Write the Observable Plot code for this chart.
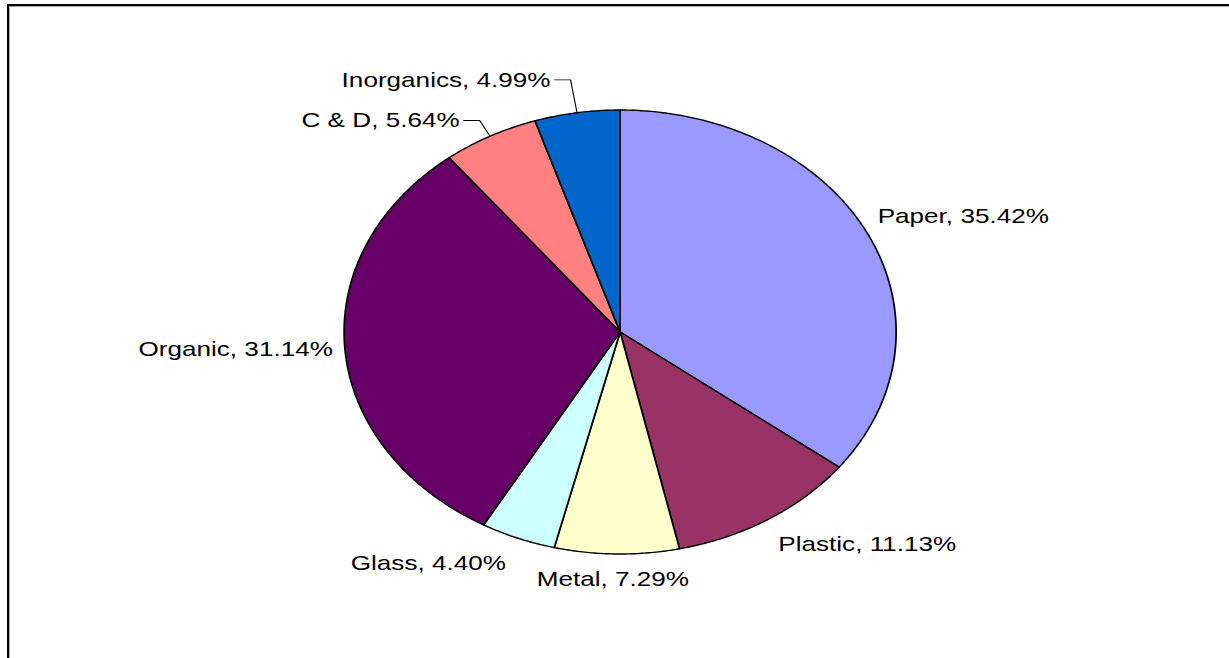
<!DOCTYPE html>
<html><head><meta charset="utf-8">
<script src="https://cdn.jsdelivr.net/npm/d3@7"></script>
<script src="https://cdn.jsdelivr.net/npm/@observablehq/plot@0.6"></script>
<style>
html,body{margin:0;padding:0;background:#fff;}
#wrap{position:relative;width:1229px;height:658px;overflow:hidden;}
#chart{position:absolute;left:0;top:0;width:1229px;height:658px;}
#chart svg{display:block;max-width:none !important;}
#frame{position:absolute;left:7px;top:4px;width:1300px;height:700px;border-top:2px solid #000;border-left:2px solid #000;box-shadow:inset 1px 1px 0 #aaa;pointer-events:none;}
</style></head><body>
<div id="wrap"><div id="chart"></div><div id="frame"></div></div>
<script>
// ---- data ----
const categories = ["Paper", "Plastic", "Metal", "Glass", "Organic", "C & D", "Inorganics"];
const shares = [35.42, 11.13, 7.29, 4.40, 31.14, 5.64, 4.99];
const labels = categories.map((c, i) => `${c}, ${shares[i].toFixed(2)}%`);

// ---- style / layout ----
const colors = ["#9999FF", "#993366", "#FFFFCC", "#CCFFFF", "#660066", "#FF8080", "#0066CC"];
const leaderReach = {"C & D": 1.08, "Inorganics": 1.15};
const W = 1229, H = 658;
const K = 276 / 222;                 // horizontal stretch of the original picture
const W0 = W / K;                    // unstretched drawing width
const R = 222;                       // pie radius (unstretched px)
const cx = 619.5 / K, cy = 331.5;
const FONT = "'Liberation Sans', Arial, Helvetica, sans-serif";

const arcs = d3.pie().sort(null).value(d => d)(shares);

// slice outlines in unit-circle coordinates
const slicePts = [];
arcs.forEach((a, i) => {
  const cat = categories[i];
  const n = Math.max(2, Math.ceil((a.endAngle - a.startAngle) / (Math.PI / 360)));
  slicePts.push({cat, x: 0, y: 0});
  for (let k = 0; k <= n; k++) {
    const t = a.startAngle + (a.endAngle - a.startAngle) * k / n;
    slicePts.push({cat, x: Math.sin(t), y: Math.cos(t)});
  }
  slicePts.push({cat, x: 0, y: 0});
});

// labels and leader lines
const labelRows = [];
const leaderPts = [];
arcs.forEach((a, i) => {
  const cat = categories[i];
  const m = (a.startAngle + a.endAngle) / 2;
  const s = Math.sin(m), c = Math.cos(m);
  const side = s >= 0 ? 1 : -1;
  if (leaderReach[cat]) {
    const f = leaderReach[cat];
    const ex = s * f, ey = c * f;
    const tx = ex + side * 16 / (R * K);
    leaderPts.push({cat, x: s, y: c}, {cat, x: ex, y: ey}, {cat, x: tx, y: ey});
    labelRows.push({text: labels[i], x: tx, y: ey, ta: side > 0 ? "start" : "end", la: "middle",
                    dx: side * 4 / K, dy: 0});
  } else {
    const ta = s > 0.25 ? "start" : s < -0.25 ? "end" : "middle";
    const la = c > 0.3 ? "bottom" : c < -0.3 ? "top" : "middle";
    labelRows.push({text: labels[i], x: s, y: c, ta, la,
      dx: (ta === "start" ? 10 : ta === "end" ? -12 : -4) / K,
      dy: la === "top" ? 17 : la === "bottom" ? -11 : 1});
  }
});

const groups = d3.groups(labelRows, d => `${d.ta}|${d.la}|${d.dx}|${d.dy}`);
const textMarks = groups.map(([key, rows]) => Plot.text(rows, {
  x: "x", y: "y", text: "text",
  textAnchor: rows[0].ta, lineAnchor: rows[0].la, dx: rows[0].dx, dy: rows[0].dy,
  fontSize: 21, fill: "#000"
}));

const chart = Plot.plot({
  width: W0, height: H, margin: 0,
  style: {fontFamily: FONT, background: "transparent"},
  x: {domain: [-1, 1], range: [cx - R, cx + R], axis: null},
  y: {domain: [-1, 1], range: [cy + R, cy - R], axis: null},
  color: {domain: categories, range: colors},
  marks: [
    Plot.line(slicePts, {x: "x", y: "y", z: "cat", fill: "cat", stroke: "#000", strokeWidth: 1.4, strokeLinejoin: "round"}),
    Plot.line(leaderPts, {x: "x", y: "y", z: "cat", stroke: "#000", strokeWidth: 0.9}),
    ...textMarks
  ]
});
// stretch horizontally like the original picture
chart.setAttribute("width", W);
chart.setAttribute("height", H);
chart.setAttribute("viewBox", `0 0 ${W0} ${H}`);
chart.setAttribute("preserveAspectRatio", "none");
chart.style.width = W + "px";
chart.style.height = H + "px";
document.getElementById("chart").appendChild(chart);
</script>
</body></html>
